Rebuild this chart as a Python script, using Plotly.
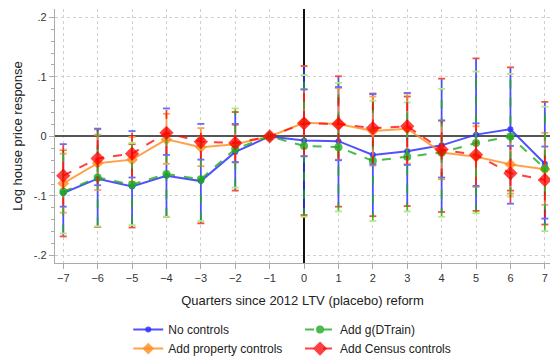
import plotly.graph_objects as go

quarters = [-7, -6, -5, -4, -3, -2, -1, 0, 1, 2, 3, 4, 5, 6, 7]

# Point estimates
no_controls = [-0.095, -0.071, -0.084, -0.066, -0.075, -0.026, 0.0, -0.007, -0.008, -0.031, -0.025, -0.015, 0.003, 0.012, -0.046]
g_dtrain = [-0.093, -0.069, -0.081, -0.063, -0.072, -0.021, 0.0, -0.016, -0.018, -0.041, -0.034, -0.027, -0.011, 0.000, -0.054]
property_ctrl = [-0.079, -0.045, -0.039, -0.005, -0.018, -0.013, 0.0, 0.023, 0.021, 0.009, 0.013, -0.027, -0.034, -0.047, -0.055]
census_ctrl = [-0.066, -0.037, -0.029, 0.006, -0.009, -0.011, 0.0, 0.022, 0.021, 0.014, 0.017, -0.022, -0.031, -0.062, -0.073]

# 95% confidence bounds (None for the reference quarter)
no_controls_lo = [-0.168, -0.152, -0.153, -0.135, -0.146, -0.091, None, -0.132, -0.118, -0.134, -0.117, -0.127, -0.125, -0.091, -0.148]
no_controls_hi = [-0.023, 0.012, -0.013, 0.005, -0.004, 0.041, None, 0.118, 0.101, 0.072, 0.067, 0.097, 0.131, 0.116, 0.058]
g_dtrain_lo = [-0.163, -0.151, -0.149, -0.135, -0.142, -0.086, None, -0.135, -0.126, -0.142, -0.126, -0.135, -0.129, -0.101, -0.159]
g_dtrain_hi = [-0.022, 0.013, -0.011, 0.009, -0.002, 0.047, None, 0.103, 0.090, 0.060, 0.057, 0.080, 0.109, 0.105, 0.050]
property_lo = [-0.128, -0.090, -0.076, -0.046, -0.050, -0.044, None, -0.034, -0.039, -0.049, -0.046, -0.072, -0.085, -0.096, -0.115]
property_hi = [-0.029, 0.003, -0.001, 0.038, 0.014, 0.019, None, 0.079, 0.081, 0.067, 0.072, 0.026, 0.017, 0.002, 0.006]
census_lo = [-0.118, -0.082, -0.069, -0.031, -0.039, -0.043, None, -0.033, -0.040, -0.047, -0.048, -0.069, -0.083, -0.113, -0.138]
census_hi = [-0.013, 0.013, 0.009, 0.047, 0.021, 0.021, None, 0.079, 0.083, 0.071, 0.073, 0.027, 0.022, -0.016, -0.017]

y_ticks = [-0.2, -0.1, 0.0, 0.1, 0.2]
y_tick_text = ["-.2", "-.1", "0", ".1", ".2"]

series = [
    # name, estimates, lo, hi, color, dash, symbol, size, legend column
    ("No controls", no_controls, no_controls_lo, no_controls_hi, "rgba(50,50,255,0.85)", "solid", "circle", 6, "legend"),
    ("Add property controls", property_ctrl, property_lo, property_hi, "rgba(255,140,30,0.8)", "solid", "diamond", 9, "legend"),
    ("Add g(DTrain)", g_dtrain, g_dtrain_lo, g_dtrain_hi, "rgba(30,170,30,0.8)", "dash", "circle", 8, "legend2"),
    ("Add Census controls", census_ctrl, census_lo, census_hi, "rgba(255,0,0,0.75)", "dash", "diamond", 11, "legend2"),
]

fig = go.Figure()

for name, est, lo, hi, color, dash, symbol, size, leg in series:
    # Confidence interval whiskers
    wx, wy, cx, cy = [], [], [], []
    for q, l, h in zip(quarters, lo, hi):
        if l is None:
            continue
        wx += [q, q, None]
        wy += [l, h, None]
        cx += [q, q]
        cy += [l, h]
    fig.add_trace(go.Scatter(x=wx, y=wy, mode="lines", showlegend=False, hoverinfo="skip",
                             line=dict(color=color, width=1.8, dash=dash)))
    fig.add_trace(go.Scatter(x=cx, y=cy, mode="markers", showlegend=False, hoverinfo="skip",
                             marker=dict(symbol="line-ew-open", size=5, line=dict(color=color, width=1.8))))
    # Point estimates
    fig.add_trace(go.Scatter(x=quarters, y=est, mode="lines+markers", name=name, legend=leg,
                             line=dict(color=color, width=2, dash=dash),
                             marker=dict(symbol=symbol, size=size, color=color)))

legend_style = dict(orientation="v", xanchor="left", y=-0.205, yanchor="top", itemwidth=30,
                    tracegroupgap=0, bgcolor="rgba(0,0,0,0)",
                    font=dict(size=12, color="#222222"))

fig.update_layout(
    width=550, height=357,
    margin=dict(l=55, r=0, t=9, b=94, autoexpand=False),
    paper_bgcolor="white", plot_bgcolor="white",
    font=dict(family="Liberation Sans, Arial, sans-serif", color="#333333", size=11),
    showlegend=True,
    legend=dict(x=0.148, **legend_style),
    legend2=dict(x=0.495, **legend_style),
    xaxis=dict(range=[-7.24, 7.15], tickmode="array", tickvals=quarters,
               ticktext=[str(q).replace("-", "\u2212") for q in quarters],
               showgrid=True, gridcolor="#d0d0d0", griddash="dot", gridwidth=1,
               showline=True, linecolor="#aaaaaa", linewidth=1.2,
               ticks="outside", ticklen=5, tickcolor="#aaaaaa",
               zeroline=True, zerolinecolor="#111111", zerolinewidth=1.5,
               title=dict(text="Quarters since 2012 LTV (placebo) reform", font=dict(size=13, color="#222222"),
                          standoff=12)),
    yaxis=dict(range=[-0.2126, 0.214], tickmode="array", tickvals=y_ticks, ticktext=y_tick_text,
               showgrid=True, gridcolor="#d0d0d0", griddash="dot", gridwidth=1,
               showline=True, linecolor="#aaaaaa", linewidth=1.2,
               ticks="outside", ticklen=5, tickcolor="#aaaaaa",
               zeroline=True, zerolinecolor="#555555", zerolinewidth=1.5,
               minor=dict(dtick=0.02, ticks="outside", ticklen=3, tickcolor="#aaaaaa", showgrid=False),
               title=dict(text="Log house price response", font=dict(size=13, color="#222222"), standoff=8)),
)

fig.write_html("out.html")
